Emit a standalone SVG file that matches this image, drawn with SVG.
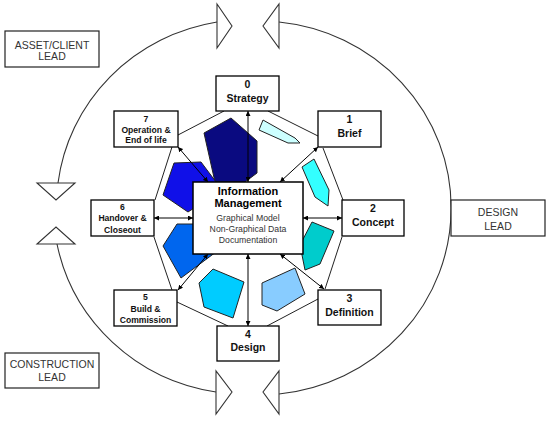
<svg xmlns="http://www.w3.org/2000/svg" width="550" height="422" viewBox="0 0 550 422">
<defs>
<marker id="ah" viewBox="0 0 10 10" refX="10" refY="5" markerWidth="5" markerHeight="5" orient="auto-start-reverse" markerUnits="userSpaceOnUse">
<path d="M0,0 L10,5 L0,10 z" fill="#000"/>
</marker>
<style>
.bx{fill:#fff;stroke:#000;stroke-width:1.3}
.lb{fill:#fff;stroke:#222;stroke-width:1.2}
.tri{fill:#fff;stroke:#333;stroke-width:1.1}
.arc{fill:none;stroke:#333;stroke-width:1.1}
.oct{fill:none;stroke:#222;stroke-width:1}
.con{fill:none;stroke:#000;stroke-width:1;marker-start:url(#ah);marker-end:url(#ah)}
.poly{stroke:#222;stroke-width:1}
.t{font-family:"Liberation Sans",Arial,sans-serif;text-anchor:middle}
.lead{font-size:10.5px;fill:#333}
.st{font-size:10.5px;font-weight:bold;fill:#111}
.ss{font-size:8.6px;font-weight:bold;fill:#111}
.im{font-size:11px;font-weight:bold;fill:#000}
.imr{font-size:8.7px;fill:#333}
</style>
</defs>
<rect width="550" height="422" fill="#fff"/>

<g id="cycle">
<path class="arc" d="M217,22 A192,187 0 0 0 58,183"/>
<path class="arc" d="M279,22 A192,187 0 0 1 279,394"/>
<path class="arc" d="M57,244 A192,187 0 0 0 216,392"/>
<polygon class="tri" points="217,4 217,48 232,26"/>
<polygon class="tri" points="279,4 279,48 263,26"/>
<polygon class="tri" points="37,183 75,183 56,200"/>
<polygon class="tri" points="37,244 75,244 56,227"/>
<polygon class="tri" points="216,371 216,414 232,392"/>
<polygon class="tri" points="279,371 279,414 263,392"/>
</g>

<g id="octagon">
<line class="oct" x1="224" y1="111" x2="178" y2="135"/>
<line class="oct" x1="268" y1="111" x2="318" y2="136"/>
<line class="oct" x1="323" y1="148" x2="343" y2="200"/>
<line class="oct" x1="342" y1="237" x2="325" y2="289"/>
<line class="oct" x1="318" y1="299" x2="267" y2="326"/>
<line class="oct" x1="228" y1="326" x2="177" y2="302"/>
<line class="oct" x1="172" y1="290" x2="154" y2="237"/>
<line class="oct" x1="155" y1="200" x2="172" y2="147"/>
</g>

<g id="shapes">
<polygon class="poly" fill="#0A0A80" points="204,133 231,118 257,141 257,173 245,182 215,182"/>
<polygon class="poly" fill="#CCFFFF" points="259,130 263,120 295,138 300,143 288,143"/>
<polygon class="poly" fill="#33FFFF" points="302,167 314,159 329,190 328,206 315,197"/>
<polygon class="poly" fill="#00CCCC" points="312,222 334,231 320,264 305,270 300,245"/>
<polygon class="poly" fill="#88CCFF" points="262,283 295,268 305,294 277,311 262,305"/>
<polygon class="poly" fill="#00CCFF" points="199,283 213,269 244,282 233,318 204,307"/>
<polygon class="poly" fill="#0066EE" points="177,224 195,224 216,252 181,278 163,246"/>
<polygon class="poly" fill="#1010E8" points="174,163 201,162 222,190 188,212 163,195"/>
</g>

<g id="connectors">
<line class="con" x1="248" y1="111" x2="248" y2="182"/>
<line class="con" x1="178" y1="147" x2="208" y2="182"/>
<line class="con" x1="318" y1="147" x2="280" y2="182"/>
<line class="con" x1="154" y1="218" x2="193" y2="218"/>
<line class="con" x1="342" y1="218" x2="303" y2="218"/>
<line class="con" x1="178" y1="290" x2="208" y2="254"/>
<line class="con" x1="324" y1="289" x2="280" y2="254"/>
<line class="con" x1="248" y1="326" x2="248" y2="254"/>
</g>

<g id="asset-client-lead">
<rect class="lb" x="5" y="31" width="94" height="36"/>
<text class="t lead" x="52" y="49">ASSET/CLIENT</text>
<text class="t lead" x="52" y="60">LEAD</text>
</g>
<g id="design-lead">
<rect class="lb" x="451" y="200" width="94" height="36"/>
<text class="t lead" x="498" y="216">DESIGN</text>
<text class="t lead" x="498" y="230">LEAD</text>
</g>
<g id="construction-lead">
<rect class="lb" x="5" y="353" width="94" height="35"/>
<text class="t lead" x="52" y="368">CONSTRUCTION</text>
<text class="t lead" x="52" y="381">LEAD</text>
</g>

<g id="stage0">
<rect class="bx" x="216" y="76" width="63" height="35"/>
<text class="t st" x="247.5" y="88">0</text>
<text class="t st" x="247.5" y="102">Strategy</text>
</g>
<g id="stage1">
<rect class="bx" x="318" y="111" width="63" height="36"/>
<text class="t st" x="349.5" y="123">1</text>
<text class="t st" x="349.5" y="137">Brief</text>
</g>
<g id="stage2">
<rect class="bx" x="342" y="200" width="62" height="36"/>
<text class="t st" x="373" y="212">2</text>
<text class="t st" x="373" y="226">Concept</text>
</g>
<g id="stage3">
<rect class="bx" x="318" y="290" width="63" height="35"/>
<text class="t st" x="349.5" y="302">3</text>
<text class="t st" x="349.5" y="316">Definition</text>
</g>
<g id="stage4">
<rect class="bx" x="217" y="326" width="62" height="35"/>
<text class="t st" x="248" y="338">4</text>
<text class="t st" x="248" y="351">Design</text>
</g>
<g id="stage5">
<rect class="bx" x="114" y="290" width="63" height="36"/>
<text class="t ss" x="145.5" y="300">5</text>
<text class="t ss" x="145.5" y="312">Build &amp;</text>
<text class="t ss" x="145.5" y="323">Commission</text>
</g>
<g id="stage6">
<rect class="bx" x="91" y="200" width="63" height="36"/>
<text class="t ss" x="122.5" y="210">6</text>
<text class="t ss" x="122.5" y="221">Handover &amp;</text>
<text class="t ss" x="122.5" y="233">Closeout</text>
</g>
<g id="stage7">
<rect class="bx" x="114" y="111" width="64" height="36"/>
<text class="t ss" x="146" y="122">7</text>
<text class="t ss" x="146" y="133">Operation &amp;</text>
<text class="t ss" x="146" y="143">End of life</text>
</g>

<g id="information-management">
<rect class="bx" x="193" y="182" width="110" height="72" style="stroke-width:1.5"/>
<text class="t im" x="248" y="195">Information</text>
<text class="t im" x="248" y="207">Management</text>
<text class="t imr" x="248" y="221">Graphical Model</text>
<text class="t imr" x="248" y="232">Non-Graphical Data</text>
<text class="t imr" x="248" y="243">Documentation</text>
</g>
</svg>
